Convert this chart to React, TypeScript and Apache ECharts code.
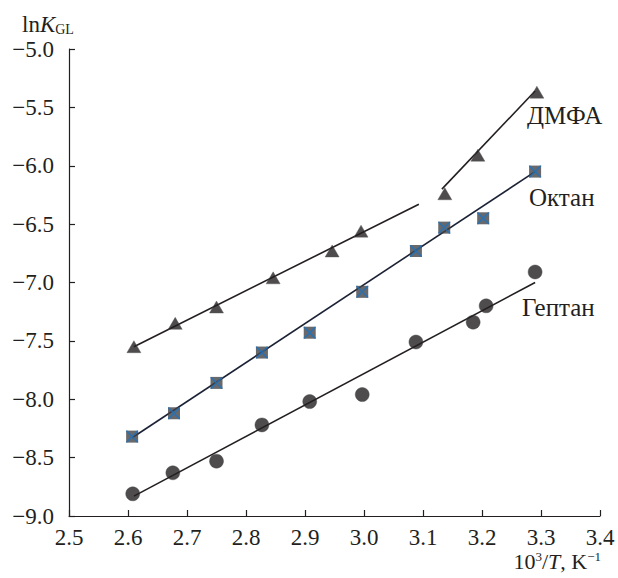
import React, { useEffect, useRef } from "react";
import * as echarts from "echarts";

const xTicks = ["2.5", "2.6", "2.7", "2.8", "2.9", "3.0", "3.1", "3.2", "3.3", "3.4"];
const yTicks = ["−9.0", "−8.5", "−8.0", "−7.5", "−7.0", "−6.5", "−6.0", "−5.5", "−5.0"];

const dmfaX = [2.61, 2.68, 2.75, 2.846, 2.946, 2.995, 3.137, 3.193, 3.293];
const dmfaY = [-7.55, -7.35, -7.21, -6.96, -6.73, -6.56, -6.24, -5.91, -5.37];

const octaneX = [2.607, 2.678, 2.75, 2.827, 2.908, 2.997, 3.088, 3.136, 3.202, 3.29];
const octaneY = [-8.32, -8.12, -7.86, -7.6, -7.43, -7.08, -6.73, -6.53, -6.45, -6.05];

const heptaneX = [2.608, 2.676, 2.75, 2.827, 2.908, 2.997, 3.088, 3.185, 3.207, 3.29];
const heptaneY = [-8.81, -8.63, -8.53, -8.22, -8.02, -7.96, -7.51, -7.34, -7.2, -6.91];

// fitted line endpoints
const dmfaFit1 = [[2.61, -7.55], [3.093, -6.33]];
const dmfaFit2 = [[3.132, -6.2], [3.29, -5.36]];
const octaneFit = [[2.607, -8.33], [3.29, -6.05]];
const heptaneFit = [[2.61, -8.83], [3.29, -7.0]];

const seriesNames = ["ДМФА", "Октан", "Гептан"];

const FONT = "Liberation Serif";
const INK = "#231f20";

const zip = (xs: number[], ys: number[]) => xs.map((x, i) => [x, ys[i]]);

const XPATH =
  "path://M0,0L2,0L10,8L18,0L20,0L20,2L12,10L20,18L20,20L18,20L10,12L2,20L0,20L0,18L8,10L0,2Z";

export default function App() {
  const ref = useRef<HTMLDivElement>(null);
  useEffect(() => {
    if (!ref.current) return;
    const chart = echarts.init(ref.current, null, { renderer: "svg" });
    const lineSeries = (data: number[][], color: string) => ({
      type: "line",
      data,
      showSymbol: false,
      symbol: "none",
      lineStyle: { color, width: 1.6 },
      silent: true,
      z: 1,
    });
    chart.setOption({
      animation: false,
      backgroundColor: "#ffffff",
      grid: { left: 69, right: 18, top: 49, bottom: 62 },
      xAxis: {
        type: "value",
        min: 2.5,
        max: 3.4,
        interval: 0.1,
        axisLine: { show: true, lineStyle: { color: INK, width: 1.2 } },
        axisTick: { show: true, inside: true, length: 6, lineStyle: { color: INK, width: 1.2 } },
        splitLine: { show: false },
        axisLabel: {
          margin: 10,
          fontFamily: FONT,
          fontSize: 23,
          color: INK,
          formatter: (v: number) => xTicks[Math.round((v - 2.5) * 10)] ?? v.toFixed(1),
        },
      },
      yAxis: {
        type: "value",
        min: -9,
        max: -5,
        interval: 0.5,
        axisLine: { show: true, lineStyle: { color: INK, width: 1.2 } },
        axisTick: { show: true, inside: true, length: 6, lineStyle: { color: INK, width: 1.2 } },
        splitLine: { show: false },
        axisLabel: {
          margin: 15,
          fontFamily: FONT,
          fontSize: 23,
          color: INK,
          padding: [4, 0, 0, 0],
          formatter: (v: number) => yTicks[Math.round((v + 9) * 2)] ?? v.toFixed(1),
        },
      },
      graphic: [
        {
          type: "text",
          left: 22,
          top: 13,
          style: {
            text: "{n|ln}{i|K}{s|GL}",
            rich: {
              n: { fontFamily: FONT, fontSize: 23, fill: INK, verticalAlign: "bottom", lineHeight: 24 },
              i: { fontFamily: FONT, fontSize: 23, fontStyle: "italic", fill: INK, verticalAlign: "bottom", lineHeight: 24 },
              s: { fontFamily: FONT, fontSize: 14, fill: INK, verticalAlign: "bottom", lineHeight: 18 },
            },
          },
        },
        {
          type: "text",
          right: 17,
          top: 550,
          style: {
            text: "{n|10}{p|3}{n|/}{i|T}{n|, K}{p|−1}",
            rich: {
              n: { fontFamily: FONT, fontSize: 22, fill: INK, verticalAlign: "bottom", lineHeight: 22 },
              i: { fontFamily: FONT, fontSize: 22, fontStyle: "italic", fill: INK, verticalAlign: "bottom", lineHeight: 22 },
              p: { fontFamily: FONT, fontSize: 13, fill: INK, verticalAlign: "top", lineHeight: 22 },
            },
          },
        },
        {
          type: "text",
          left: 527,
          top: 103,
          style: { text: seriesNames[0], fontFamily: FONT, fontSize: 25, fill: INK },
        },
        {
          type: "text",
          left: 529,
          top: 185,
          style: { text: seriesNames[1], fontFamily: FONT, fontSize: 25, fill: INK },
        },
        {
          type: "text",
          left: 522,
          top: 295,
          style: { text: seriesNames[2], fontFamily: FONT, fontSize: 25, fill: INK },
        },
      ],
      series: [
        lineSeries(dmfaFit1, INK),
        lineSeries(dmfaFit2, INK),
        lineSeries(octaneFit, "#1c2235"),
        lineSeries(heptaneFit, INK),
        {
          name: seriesNames[0],
          type: "scatter",
          data: zip(dmfaX, dmfaY),
          symbol: "triangle",
          symbolSize: [14, 12],
          itemStyle: { color: INK, borderColor: "#555", borderWidth: 0.5 },
          z: 3,
        },
        {
          name: seriesNames[1],
          type: "scatter",
          data: zip(octaneX, octaneY),
          symbol: "rect",
          symbolSize: 12,
          itemStyle: { color: "#444446" },
          z: 3,
        },
        {
          name: seriesNames[1] + " x",
          type: "scatter",
          data: zip(octaneX, octaneY),
          symbol: XPATH,
          symbolSize: 12,
          itemStyle: { color: "#1f72bd" },
          z: 4,
        },
        {
          name: seriesNames[2],
          type: "scatter",
          data: zip(heptaneX, heptaneY),
          symbol: "circle",
          symbolSize: 14,
          itemStyle: { color: INK, borderColor: "#444", borderWidth: 0.5 },
          z: 3,
        },
      ],
    });
    return () => chart.dispose();
  }, []);
  return (
    <div
      ref={ref}
      style={{ position: "fixed", left: 0, top: 0, width: 618, height: 578, background: "#fff" }}
    />
  );
}
